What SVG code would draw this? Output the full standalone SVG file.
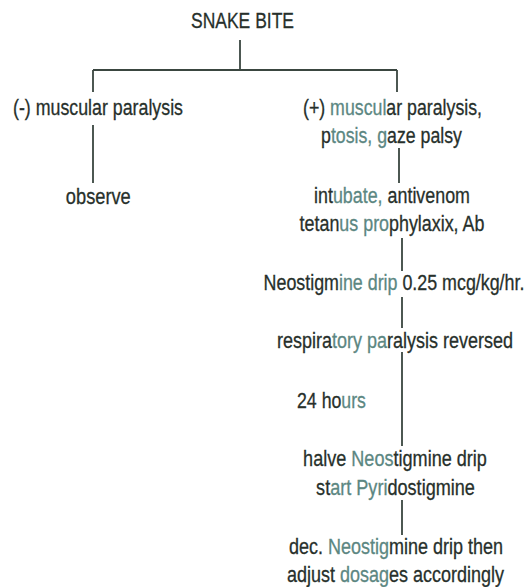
<svg xmlns="http://www.w3.org/2000/svg" width="528" height="587" viewBox="0 0 528 587">
<style>
text{font-family:"Liberation Sans",Arial,sans-serif;font-size:22px;fill:#27302b;stroke:#27302b;stroke-width:0.3;text-anchor:middle}
.t{fill:#5c8782;stroke:#5c8782}
.c{stroke:#3a4640;stroke-width:1.8;fill:none}
</style>
<rect width="528" height="587" fill="#ffffff"/>
<g id="connectors">
<path class="c" d="M240 40V70M93 70H397M93 70V92M397 70V92M93 125V183M399 148V183M402 238V271M402 297V328M402 352V446M402 500V535"/>
</g>
<g id="n-snakebite"><text transform="translate(242.5 28) scale(0.795 1)">SNAKE BITE</text></g>
<g id="n-negative"><text transform="translate(98 115) scale(0.809 1)">(-) muscular paralysis</text></g>
<g id="n-positive">
<text transform="translate(392.5 115) scale(0.807 1)">(+) <tspan class="t">muscul</tspan>ar paralysis,</text>
<text transform="translate(391.5 143) scale(0.806 1)">p<tspan class="t">tosis, g</tspan>aze palsy</text>
</g>
<g id="n-observe"><text transform="translate(98.3 204) scale(0.83 1)">observe</text></g>
<g id="n-intubate">
<text transform="translate(392 203) scale(0.8125 1)">int<tspan class="t">ubate,</tspan> antivenom</text>
<text transform="translate(392 231) scale(0.813 1)">tetan<tspan class="t">us pro</tspan>phylaxix, Ab</text>
</g>
<g id="n-neostigmine"><text transform="translate(394 290) scale(0.812 1)">Neostigm<tspan class="t">ine drip</tspan> 0.25 mcg/kg/hr.</text></g>
<g id="n-reversed"><text transform="translate(395 348) scale(0.818 1)">respira<tspan class="t">tory pa</tspan>ralysis reversed</text></g>
<g id="n-24hours"><text transform="translate(331.5 408) scale(0.806 1)">24 ho<tspan class="t">urs</tspan></text></g>
<g id="n-halve">
<text transform="translate(395 466) scale(0.822 1)">halve <tspan class="t">Neos</tspan>tigmine drip</text>
<text transform="translate(395.5 495) scale(0.823 1)">st<tspan class="t">art Pyri</tspan>dostigmine</text>
</g>
<g id="n-dec">
<text transform="translate(396 554) scale(0.818 1)">dec. <tspan class="t">Neostig</tspan>mine drip then</text>
<text transform="translate(395.5 582) scale(0.818 1)">adjust <tspan class="t">dosag</tspan>es accordingly</text>
</g>
</svg>
